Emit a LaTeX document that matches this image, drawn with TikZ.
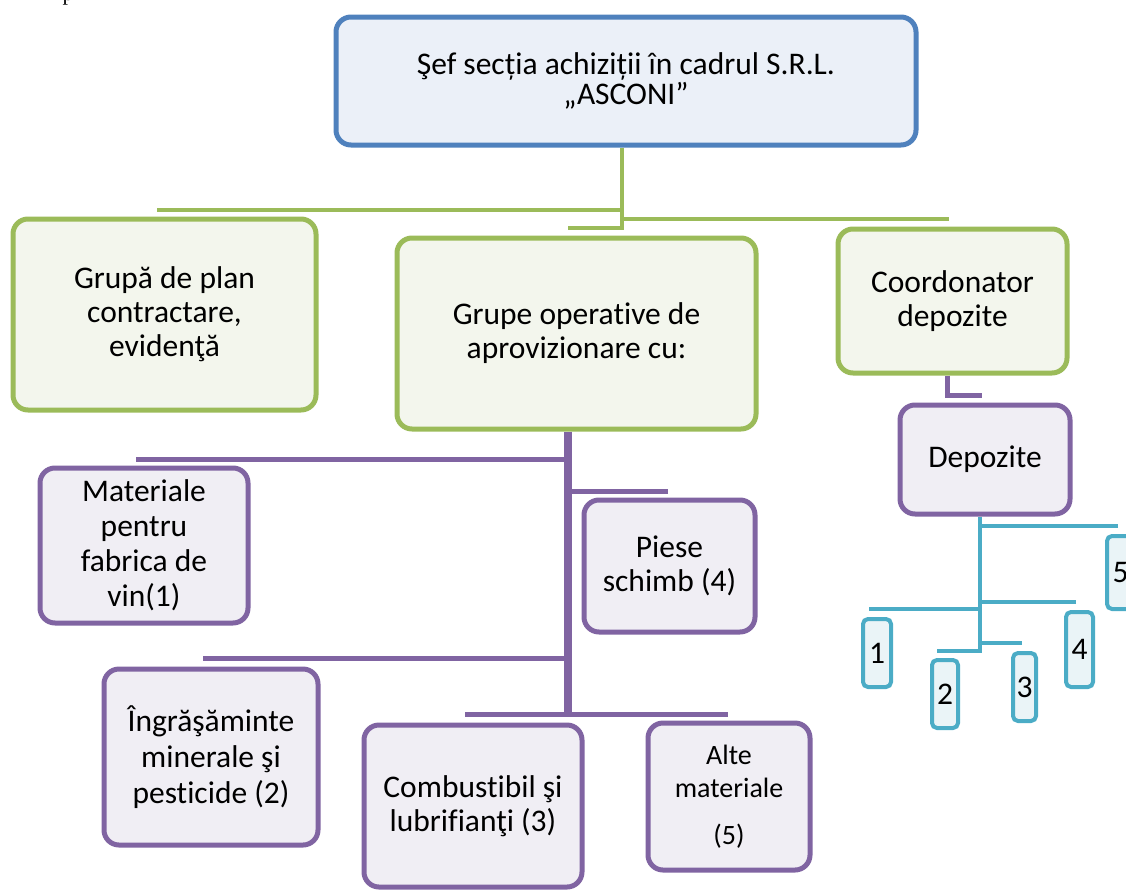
\documentclass[tikz,border=0pt]{standalone}
\usepackage{fontspec}
\setmainfont{Carlito}[Ligatures=NoCommon]
\newfontfamily\docserif{Liberation Serif}
\definecolor{blueline}{HTML}{4F81BD}
\definecolor{bluefill}{HTML}{EBF0F8}
\definecolor{greenline}{HTML}{9BBB59}
\definecolor{greenfill}{HTML}{F3F6ED}
\definecolor{purpleline}{HTML}{8064A2}
\definecolor{purplefill}{HTML}{F0EEF4}
\definecolor{cyanline}{HTML}{4BACC6}
\definecolor{cyanfill}{HTML}{EAF4F7}
\newcommand{\boxfont}{\fontsize{31.5}{34}\selectfont}

\begin{document}
\begin{tikzpicture}[x=1pt,y=-1pt,
    box/.style={rounded corners=15pt, line width=5pt, align=center, inner sep=0pt, font=\boxfont},
    topbox/.style={box, draw=blueline, fill=bluefill},
    grpbox/.style={box, draw=greenline, fill=greenfill},
    subbox/.style={box, draw=purpleline, fill=purplefill},
    depbox/.style={box, rounded corners=5pt, line width=4pt, draw=cyanline, fill=cyanfill},
    gline/.style={draw=greenline, line width=4pt},
    pline/.style={draw=purpleline, line width=5pt},
    ptrunk/.style={draw=purpleline, line width=8pt},
    cline/.style={draw=cyanline, line width=4pt}]
         \clip (0,0) rectangle (1126,889);
         \node [anchor=base, inner sep=0pt, font=\docserif\fontsize{22}{22}\selectfont] (pg) at (68,0) {p};
         % top level
         \node [topbox, minimum width=580pt, minimum height=128pt, font=\fontsize{31.5}{30}\selectfont] (T) at (626,81) {Şef secția achiziții în cadrul S.R.L.\\„ASCONI”};
         \node [grpbox, minimum width=303pt, minimum height=191pt] (G) at (164.5,314.5) {Grupă de plan\\contractare,\\evidenţă};
         \node [grpbox, minimum width=359pt, minimum height=191pt] (O) at (576.5,333.5) {Grupe operative de\\aprovizionare cu:};
         \node [grpbox, minimum width=229pt, minimum height=144pt] (C) at (952.5,301) {Coordonator\\depozite};
         \node [subbox, minimum width=170pt, minimum height=109pt] (D) at (985,459.5) {Depozite};
         % operative groups
         \node [subbox, minimum width=208pt, minimum height=155pt, font=\fontsize{31.5}{35}\selectfont] (M1) at (144,545.5) {Materiale\\pentru\\fabrica de\\vin(1)};
         \node [subbox, minimum width=171pt, minimum height=132pt] (M4) at (669.5,566) {Piese\\schimb (4)};
         \node [subbox, minimum width=214pt, minimum height=176pt, font=\fontsize{31.5}{36}\selectfont] (M2) at (211,757) {Îngrăşăminte\\minerale şi\\pesticide (2)};
         \node [subbox, minimum width=218pt, minimum height=162pt] (M3) at (473,806) {Combustibil şi\\lubrifianţi (3)};
         \node [subbox, minimum width=162pt, minimum height=147pt, font=\fontsize{28}{33}\selectfont] (M5) at (729,796.5) {Alte\\materiale\\[14pt](5)};
         % warehouses
         \node [depbox, minimum width=28pt, minimum height=68pt] (D1) at (877,653) {1};
         \node [depbox, minimum width=26pt, minimum height=68pt] (D2) at (945,694) {2};
         \node [depbox, minimum width=23pt, minimum height=68pt] (D3) at (1024.5,687) {3};
         \node [depbox, minimum width=27pt, minimum height=75pt] (D4) at (1079.5,649.5) {4};
         \node [depbox, minimum width=27pt, minimum height=73pt] (D5) at (1120.5,572.5) {5};
         % green connector
         \coordinate (gj) at (622,228);
         \coordinate (gL) at (157,210);
         \coordinate (gR) at (949,219);
         \coordinate (gO) at (568,228);
         \draw [gline] (gj |- T.south) -- (gj) -- (gO);
         \draw [gline] (gL) -- (gL -| gj);
         \draw [gline] (gR) -- (gR -| gj);
         % purple connectors
         \coordinate (pj) at (568,715);
         \coordinate (p1) at (136,459);
         \coordinate (p4) at (668,491);
         \coordinate (p2) at (203,658);
         \coordinate (p3) at (465,714);
         \coordinate (p5) at (728,714);
         \draw [ptrunk] (pj |- O.south) -- (pj);
         \draw [pline] (p1) -- (p1 -| pj);
         \draw [pline] (p4) -- (p4 -| pj);
         \draw [pline] (p2) -- (p2 -| pj);
         \draw [pline] (p3) -- (p5);
         \coordinate (cj) at (947,395);
         \coordinate (cD) at (982,395);
         \draw [pline] (cj |- C.south) -- (cj) -- (cD);
         % cyan connector
         \coordinate (dj) at (980,651);
         \coordinate (d5) at (1118,526);
         \coordinate (d4) at (1076,602);
         \coordinate (d1) at (869,609);
         \coordinate (d3) at (1022,643);
         \coordinate (d2) at (937,651);
         \draw [cline] (dj |- D.south) -- (dj) -- (d2);
         \draw [cline] (d5) -- (d5 -| dj);
         \draw [cline] (d4) -- (d4 -| dj);
         \draw [cline] (d1) -- (d1 -| dj);
         \draw [cline] (d3) -- (d3 -| dj);
\end{tikzpicture}
\end{document}
